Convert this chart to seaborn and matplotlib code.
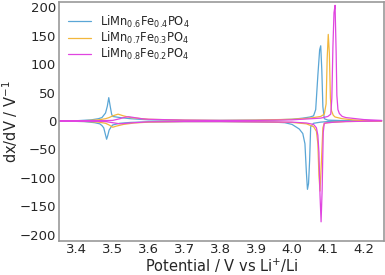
import matplotlib
matplotlib.use('Agg')
import matplotlib.pyplot as plt
import seaborn as sns
import pandas as pd

# LiMn0.6Fe0.4PO4
v_06_chg = [3.35, 3.40, 3.44, 3.46, 3.47, 3.48, 3.485, 3.489, 3.493, 3.497, 3.50, 3.52, 3.55, 3.60, 3.70,
            3.80, 3.90, 3.95, 4.00, 4.03, 4.05, 4.06, 4.066, 4.072, 4.077, 4.080, 4.083, 4.086, 4.09, 4.10,
            4.15, 4.25]
y_06_chg = [0, 0.5, 2, 4, 6, 14, 26, 41, 26, 12, 8, 6, 4, 2, 1,
            1, 1.5, 2, 3, 5, 7, 9, 20, 80, 125, 132, 90, 25, 4, 1.5,
            0.5, 0]
v_06_dis = [4.25, 4.15, 4.10, 4.08, 4.06, 4.052, 4.049, 4.046, 4.043, 4.040, 4.036, 4.03, 4.02, 4.00, 3.98,
            3.95, 3.90, 3.80, 3.70, 3.60, 3.55, 3.52, 3.50, 3.497, 3.49, 3.486, 3.483, 3.479, 3.475, 3.47,
            3.464, 3.45, 3.42, 3.35]
y_06_dis = [0, -0.5, -1, -2, -4, -10, -70, -110, -120, -90, -40, -22, -14, -6, -3,
            -2, -1.5, -1, -1, -1.5, -2.5, -4, -7, -9, -16, -26, -32, -22, -12, -8,
            -5, -3, -1, 0]

# LiMn0.7Fe0.3PO4
v_07_chg = [3.35, 3.42, 3.46, 3.48, 3.49, 3.50, 3.51, 3.515, 3.52, 3.53, 3.55, 3.60, 3.70, 3.80, 3.90,
            4.00, 4.05, 4.08, 4.090, 4.095, 4.098, 4.101, 4.104, 4.107, 4.110, 4.115, 4.12, 4.14, 4.17, 4.20,
            4.25]
y_07_chg = [0, 0.5, 2, 4, 6, 9, 11, 12, 11, 9, 6, 3, 1.5, 1, 1.5,
            3, 5, 8, 12, 30, 110, 152, 120, 40, 18, 10, 7, 4, 2, 1,
            0]
v_07_dis = [4.25, 4.20, 4.15, 4.12, 4.10, 4.09, 4.086, 4.082, 4.078, 4.075, 4.072, 4.068, 4.06, 4.04, 4.00,
            3.95, 3.90, 3.80, 3.70, 3.60, 3.56, 3.53, 3.51, 3.50, 3.49, 3.48, 3.46, 3.43, 3.35]
y_07_dis = [0, -0.5, -1, -2, -3, -4, -12, -70, -123, -95, -40, -18, -10, -5, -2.5,
            -2, -1.5, -1, -1, -2, -3.5, -6, -9, -11, -7, -4, -2, -1, 0]

# LiMn0.8Fe0.2PO4
v_08_chg = [3.35, 3.45, 3.50, 3.52, 3.53, 3.543, 3.55, 3.56, 3.58, 3.60, 3.70, 3.80, 3.90, 4.00, 4.08,
            4.10, 4.108, 4.111, 4.114, 4.117, 4.120, 4.123, 4.125, 4.128, 4.132, 4.14, 4.15, 4.20, 4.25]
y_08_chg = [0, 0.5, 1, 4, 6, 7.5, 7, 6, 4, 3, 1.5, 1, 1, 2, 5,
            8, 12, 40, 130, 190, 203, 120, 45, 20, 13, 8, 6, 2.5, 1]
v_08_dis = [4.25, 4.20, 4.15, 4.12, 4.10, 4.09, 4.087, 4.084, 4.081, 4.078, 4.075, 4.072, 4.068, 4.06, 4.04,
            4.00, 3.90, 3.80, 3.70, 3.60, 3.56, 3.54, 3.52, 3.50, 3.48, 3.45, 3.35]
y_08_dis = [0, -0.5, -1, -2, -3, -4, -20, -120, -177, -130, -55, -25, -12, -6, -3.5,
            -2, -1.5, -1, -1, -1.5, -3, -4, -5, -3, -1, -0.5, 0]

labels = [r'LiMn$_{0.6}$Fe$_{0.4}$PO$_4$',
          r'LiMn$_{0.7}$Fe$_{0.3}$PO$_4$',
          r'LiMn$_{0.8}$Fe$_{0.2}$PO$_4$']
colors = ['#5aa6d6', '#f2b73c', '#e045e0']


def build_df():
    frames = []
    series = [(v_06_chg, y_06_chg, v_06_dis, y_06_dis),
              (v_07_chg, y_07_chg, v_07_dis, y_07_dis),
              (v_08_chg, y_08_chg, v_08_dis, y_08_dis)]
    for lab, (vc, yc, vd, yd) in zip(labels, series):
        frames.append(pd.DataFrame({'V': vc + vd, 'dxdV': yc + yd, 'sample': lab}))
    return pd.concat(frames, ignore_index=True)


def main():
    sns.set_style('white')
    plt.rcParams['font.family'] = ['DejaVu Sans']
    plt.rcParams['mathtext.fontset'] = 'dejavusans'

    df = build_df()

    fig, ax = plt.subplots(figsize=(3.85, 2.75), dpi=100)
    fig.subplots_adjust(left=0.153, right=0.997, top=0.993, bottom=0.125)

    # charge + discharge drawn as one continuous line per sample
    for lab, col in zip(labels, colors):
        sub = df[df['sample'] == lab]
        sns.lineplot(x=sub['V'].values, y=sub['dxdV'].values, sort=False, estimator=None,
                     color=col, linewidth=0.9, ax=ax, label=lab)

    ax.set_xlim(3.35, 4.256)
    ax.set_ylim(-210, 209)
    ax.set_xticks([3.4, 3.5, 3.6, 3.7, 3.8, 3.9, 4.0, 4.1, 4.2])
    ax.set_yticks([-200, -150, -100, -50, 0, 50, 100, 150, 200])
    ax.tick_params(labelsize=9.5, length=0, pad=2)
    ax.set_xlabel(r'Potential / V vs Li$^{+}$/Li', fontsize=10.5, labelpad=0)
    ax.set_ylabel(r'dx/dV / V$^{-1}$', fontsize=10.5, labelpad=0)
    for sp in ax.spines.values():
        sp.set_color('#999999')
        sp.set_linewidth(1.2)

    ax.legend(loc='upper left', frameon=False, fontsize=8.3, handlelength=2.0,
              labelspacing=0.0, borderaxespad=0.4, bbox_to_anchor=(0.0, 0.99))

    plt.savefig('out.png', dpi=100)


if __name__ == '__main__':
    main()
